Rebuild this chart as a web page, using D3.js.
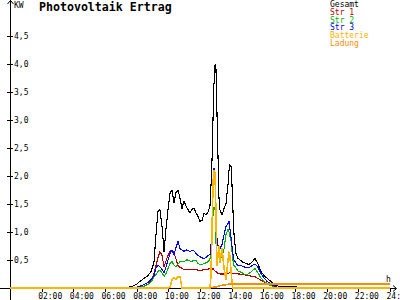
<!DOCTYPE html>
<html>
<head>
<meta charset="utf-8">
<script src="https://cdn.jsdelivr.net/npm/d3@7"></script>
<style>
body { margin: 0; background: #fff; }
text { font-family: "DejaVu Sans Mono", monospace; }
</style>
</head>
<body>
<div id="chart"></div>
<script>
var svgWidth = 400;
var svgHeight = 300;

// time of day in hours, shared by all series
var hours = [0, 7.45, 7.71, 7.96, 8.21, 8.46, 8.72, 8.91, 9.09, 9.22, 9.35, 9.47, 9.60, 9.73, 9.85, 9.98,
	10.11, 10.23, 10.36, 10.48, 10.61, 10.74, 10.86, 10.99, 11.12, 11.24, 11.37, 11.49, 11.62, 11.75, 11.87,
	12.00, 12.13, 12.25, 12.38, 12.51, 12.63, 12.69, 12.76, 12.82, 12.88, 12.95, 13.01, 13.07, 13.14, 13.20,
	13.26, 13.39, 13.52, 13.64, 13.77, 13.83, 13.89, 13.96, 14.02, 14.08, 14.15, 14.27, 14.40, 14.53, 14.72,
	14.91, 15.09, 15.28, 15.47, 15.66, 15.85, 16.04, 16.23, 16.42, 16.61, 16.80, 17.05, 24];

var gesamt = [0, 0.01, 0.03, 0.06, 0.12, 0.17, 0.22, 0.30, 0.45, 0.95, 1.38, 1.40, 1.10, 0.65, 1.05, 1.40,
	1.69, 1.75, 1.52, 1.70, 1.75, 1.60, 1.42, 1.55, 1.46, 1.40, 1.34, 1.40, 1.43, 1.34, 1.28,
	1.19, 1.21, 1.33, 1.31, 1.36, 1.46, 1.80, 2.30, 3.00, 3.62, 3.99, 3.90, 3.15, 2.30, 1.60,
	1.40, 1.30, 1.42, 1.50, 1.85, 2.10, 2.20, 2.18, 1.85, 1.40, 0.95, 0.62, 0.53, 0.50, 0.46,
	0.44, 0.42, 0.46, 0.53, 0.43, 0.30, 0.22, 0.18, 0.13, 0.08, 0.05, 0.02, 0];

var str1 = [0, 0, 0, 0, 0.01, 0.03, 0.07, 0.14, 0.25, 0.40, 0.55, 0.65, 0.58, 0.38, 0.48, 0.58,
	0.65, 0.68, 0.63, 0.52, 0.40, 0.37, 0.35, 0.33, 0.33, 0.33, 0.33, 0.33, 0.33, 0.33, 0.32,
	0.32, 0.32, 0.33, 0.33, 0.33, 0.36, 0.34, 0.33, 0.35, 0.32, 0.30, 0.29, 0.28, 0.26, 0.26,
	0.25, 0.25, 0.25, 0.25, 0.26, 0.27, 0.27, 0.26, 0.26, 0.26, 0.26, 0.26, 0.25, 0.25, 0.24,
	0.23, 0.22, 0.21, 0.20, 0.17, 0.14, 0.11, 0.09, 0.06, 0.04, 0.02, 0, 0];

var str2 = [0, 0, 0, 0, 0.01, 0.03, 0.06, 0.11, 0.19, 0.24, 0.30, 0.32, 0.27, 0.21, 0.26, 0.35,
	0.44, 0.47, 0.41, 0.38, 0.43, 0.47, 0.47, 0.47, 0.50, 0.50, 0.48, 0.47, 0.50, 0.49, 0.44,
	0.42, 0.41, 0.44, 0.45, 0.47, 0.52, 0.58, 0.90, 1.30, 1.45, 1.40, 0.80, 0.65, 0.58, 0.55,
	0.52, 0.55, 0.70, 0.95, 1.05, 1.00, 0.92, 0.85, 0.65, 0.50, 0.40, 0.36, 0.30, 0.29, 0.26,
	0.23, 0.26, 0.30, 0.35, 0.27, 0.18, 0.12, 0.08, 0.05, 0.03, 0.02, 0.01, 0];

var str3 = [0, 0, 0, 0.01, 0.03, 0.06, 0.10, 0.15, 0.22, 0.36, 0.41, 0.38, 0.33, 0.28, 0.37, 0.50,
	0.62, 0.68, 0.59, 0.72, 0.83, 0.70, 0.68, 0.65, 0.68, 0.67, 0.65, 0.67, 0.66, 0.62, 0.58,
	0.56, 0.54, 0.52, 0.55, 0.58, 0.60, 0.73, 1.20, 1.80, 2.15, 2.00, 1.20, 0.90, 0.75, 0.68,
	0.70, 0.78, 0.95, 1.10, 1.15, 1.20, 1.05, 0.90, 0.75, 0.60, 0.50, 0.45, 0.40, 0.41, 0.38,
	0.37, 0.36, 0.40, 0.43, 0.37, 0.26, 0.18, 0.12, 0.08, 0.05, 0.02, 0.01, 0];

var batterie = [0, 0, 0, 0, 0, 0, 0, 0, 0, 0, 0, 0, 0, 0, 0, 0,
	0.02, 0.15, 0.18, 0.15, 0.20, 0.20, 0, 0, 0, 0, 0, 0, 0, 0, 0,
	0, 0, 0, 0, 0, 0, 0.20, 1.00, 1.85, 2.10, 2.05, 1.30, 0.40, 0.60, 0.75,
	0.45, 0.72, 0.35, 0.15, 0.50, 0.62, 0.58, 0.30, 0.10, 0, 0, 0, 0, 0, 0,
	0, 0, 0, 0, 0, 0, 0, 0, 0, 0, 0, 0, 0];

// charge only logged from about 12:30 on
var ladung = [null, null, null, null, null, null, null, null, null, null, null, null, null, null, null, null,
	null, null, null, null, null, null, null, null, null, null, null, null, null, null, null,
	null, null, null, null, null, 0, 0.005, 0.01, 0.012, 0.015, 0.018, 0.02, 0.025, 0.03, 0.035,
	0.04, 0.048, 0.055, 0.06, 0.065, 0.067, 0.068, 0.069, 0.07, 0.07, 0.07, 0.07, 0.07, 0.07, 0.07,
	0.07, 0.07, 0.07, 0.07, 0.07, 0.07, 0.07, 0.07, 0.07, 0.07, 0.07, 0.07, 0.07];

var seriesNames = ["Gesamt", "Str 1", "Str 2", "Str 3", "Batterie", "Ladung"];
var seriesColors = ["#000000", "#b40000", "#00b400", "#0000ff", "#ffb400", "#ff8c00"];
var seriesValues = [gesamt, str1, str2, str3, batterie, ladung];

var yTicks = [0.5, 1, 1.5, 2, 2.5, 3, 3.5, 4, 4.5];
var xTicks = [2, 4, 6, 8, 10, 12, 14, 16, 18, 20, 22, 24];

var svg = d3.select("#chart").append("svg")
	.attr("width", svgWidth)
	.attr("height", svgHeight);

var xScale = d3.scaleLinear().domain([0, 24]).range([10, 390]);
var yScale = d3.scaleLinear().domain([0, 4.5]).range([288, 36]);

// axes
var yAxis = d3.axisRight(yScale)
	.tickValues(yTicks)
	.tickSize(6)
	.tickPadding(1)
	.tickFormat(d => d3.format(".1f")(d).replace(".", ","));

svg.append("g")
	.attr("transform", "translate(7,0)")
	.call(yAxis)
	.call(g => g.select(".domain").remove())
	.call(g => g.selectAll("text").attr("font-size", "8px").attr("font-family", "DejaVu Sans Mono"));

var xAxis = d3.axisBottom(xScale)
	.tickValues(xTicks)
	.tickSize(4)
	.tickPadding(1)
	.tickFormat(d => d3.format("02d")(d) + ":00");

svg.append("g")
	.attr("transform", "translate(0,288)")
	.call(xAxis)
	.call(g => g.select(".domain").remove())
	.call(g => g.selectAll("text")
		.attr("font-size", "8px")
		.attr("font-family", "DejaVu Sans Mono")
		.attr("text-anchor", "start")
		.attr("dx", -4));

svg.selectAll(".tick line").attr("shape-rendering", "crispEdges");

svg.append("line")
	.attr("x1", 10.5).attr("x2", 10.5)
	.attr("y1", 0).attr("y2", 300)
	.attr("stroke", "#000");
svg.append("path")
	.attr("d", "M7.5,4 L10.5,0.5 L13.5,4")
	.attr("fill", "none")
	.attr("stroke", "#000");

svg.append("line")
	.attr("x1", 0).attr("x2", 396)
	.attr("y1", 288.5).attr("y2", 288.5)
	.attr("stroke", "#000");
svg.append("path")
	.attr("d", "M393,285.5 L396.5,288.5 L393,291.5")
	.attr("fill", "none")
	.attr("stroke", "#000");

svg.append("text")
	.attr("x", 14).attr("y", 8)
	.attr("font-size", "8px")
	.text("KW");

svg.append("text")
	.attr("x", 386).attr("y", 282)
	.attr("font-size", "8px")
	.text("h");

svg.append("text")
	.attr("x", 39).attr("y", 11)
	.attr("font-size", "11.6px")
	.attr("font-weight", "bold")
	.text("Photovoltaik Ertrag");

// series lines
var line = d3.line()
	.defined(d => d[1] != null)
	.x(d => xScale(d[0]))
	.y(d => yScale(d[1]));

seriesValues.forEach(function(values, i) {
	var pts = hours.map((h, j) => [h, values[j]]);
	svg.append("path")
		.datum(pts)
		.attr("d", line)
		.attr("fill", "none")
		.attr("stroke", seriesColors[i])
		.attr("stroke-width", i >= 4 ? 1.6 : 1.1)
		.attr("shape-rendering", "crispEdges");
});

// legend
svg.append("g").selectAll("text")
	.data(seriesNames)
	.enter()
	.append("text")
	.attr("x", 330)
	.attr("y", (d, i) => 7 + i * 7.8)
	.attr("font-size", "8px")
	.attr("fill", (d, i) => seriesColors[i])
	.text(d => d);
</script>
</body>
</html>
